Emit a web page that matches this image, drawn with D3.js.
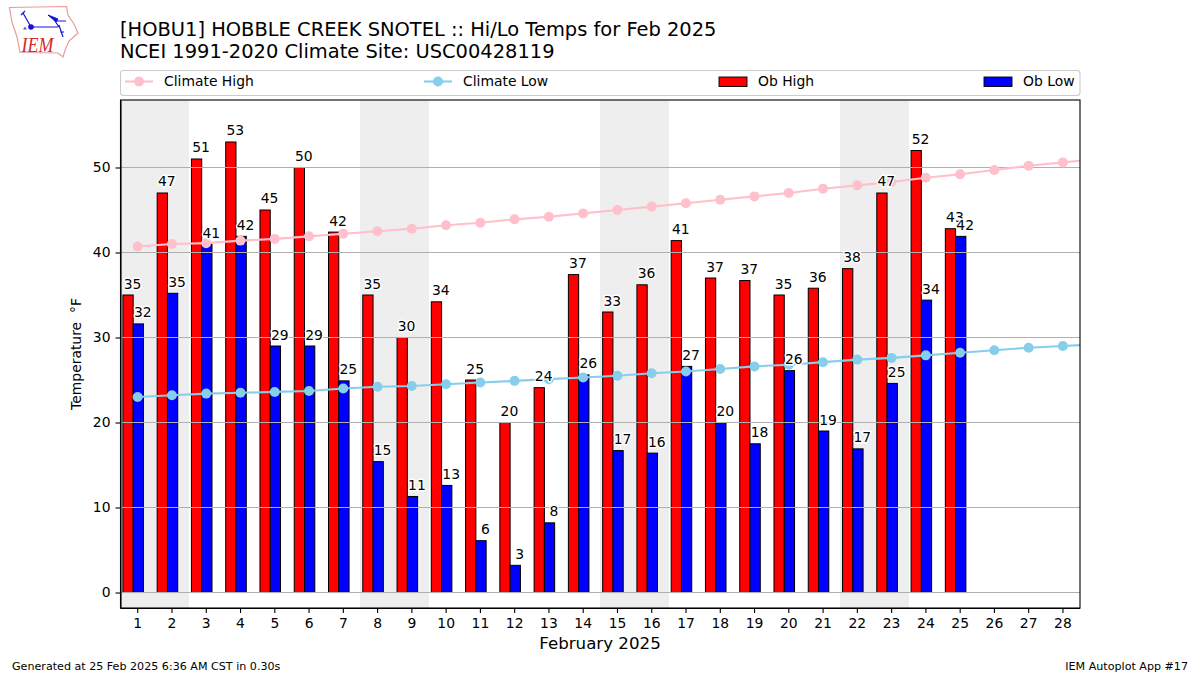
<!DOCTYPE html>
<html>
<head>
<meta charset="utf-8">
<script src="https://cdn.jsdelivr.net/npm/d3@7"></script>
<style>
    body { margin: 0; background: #fff; }
    text { font-family: "DejaVu Sans", sans-serif; fill: #000; }
    .tick text { font-size: 13.9px; }
    .tick line, .domain { stroke: #000; stroke-width: 1.1px; }
</style>
</head>
<body>
<svg id="viz" width="1200" height="675"></svg>
<script>
const titleLines = [
    "[HOBU1] HOBBLE CREEK SNOTEL :: Hi/Lo Temps for Feb 2025",
    "NCEI 1991-2020 Climate Site: USC00428119"
];
const xLabel = "February 2025";
const yLabel = "Temperature \u00a0\u00b0F";
const footerLeft = "Generated at 25 Feb 2025 6:36 AM CST in 0.30s";
const footerRight = "IEM Autoplot App #17";

const days = d3.range(1, 29);
const yTicks = [0, 10, 20, 30, 40, 50];
const weekendDays = [1, 2, 8, 9, 15, 16, 22, 23];

const obHigh = [35, 47, 51, 53, 45, 50, 42.4, 35, 30, 34.2, 25, 20, 24.1, 37.4, 33, 36.2, 41.4, 37, 36.7, 35, 35.8, 38.1, 47, 52, 42.8];
const obLow = [31.6, 35.2, 41, 41.9, 29, 29, 24.9, 15.4, 11.3, 12.6, 6.1, 3.2, 8.2, 25.6, 16.7, 16.4, 26.6, 20, 17.5, 26.1, 19, 16.9, 24.6, 34.4, 41.9];
// the climate series run on to Feb 29, past the right edge of the axes
const climateHigh = [40.7, 41.0, 41.1, 41.4, 41.6, 41.9, 42.2, 42.5, 42.8, 43.2, 43.5, 43.9, 44.2, 44.6, 45.0, 45.4, 45.8, 46.2, 46.6, 47.0, 47.5, 47.9, 48.3, 48.8, 49.2, 49.7, 50.2, 50.6, 51.0];
const climateLow = [23.0, 23.2, 23.4, 23.5, 23.6, 23.7, 24.0, 24.2, 24.3, 24.5, 24.7, 24.9, 25.1, 25.3, 25.5, 25.8, 26.0, 26.3, 26.6, 26.8, 27.1, 27.4, 27.6, 27.9, 28.2, 28.5, 28.8, 29.0, 29.2];

const svg = d3.select("#viz");

const x = d3.scaleLinear().domain([0.5, 28.5]).range([120.5, 1080]);
const y = d3.scaleLinear().domain([-1.82, 57.94]).range([608, 100]);

const barWidth = x(1.3) - x(1);
const highOffset = -0.43;
const lowOffset = -0.13;

svg.append("clipPath").attr("id", "plot-clip")
    .append("rect")
    .attr("x", x.range()[0])
    .attr("y", y.range()[1])
    .attr("width", x.range()[1] - x.range()[0])
    .attr("height", y.range()[0] - y.range()[1]);

const plot = svg.append("g").attr("clip-path", "url(#plot-clip)");

// weekend shading
plot.selectAll("rect.weekend")
    .data(weekendDays)
    .enter()
    .append("rect")
    .attr("class", "weekend")
    .attr("x", (d) => x(d - 0.5))
    .attr("width", (d) => x(d + 0.5) - x(d - 0.5))
    .attr("y", y.range()[1])
    .attr("height", y.range()[0] - y.range()[1])
    .attr("shape-rendering", "crispEdges")
    .style("fill", "#eeeeee");

function drawBars(values, offset, color) {
    plot.append("g").selectAll("rect")
        .data(values)
        .enter()
        .append("rect")
        .attr("x", (d, i) => x(i + 1 + offset))
        .attr("width", barWidth)
        .attr("y", (d) => y(d))
        .attr("height", (d) => y(0) - y(d))
        .style("fill", color)
        .style("stroke", "#000")
        .style("stroke-width", 1);
}
drawBars(obHigh, highOffset, "red");
drawBars(obLow, lowOffset, "blue");

// grid sits above the bars, below the lines
plot.selectAll("line.grid")
    .data(yTicks)
    .enter()
    .append("line")
    .attr("class", "grid")
    .attr("x1", x.range()[0])
    .attr("x2", x.range()[1])
    .attr("y1", (d) => y(d))
    .attr("y2", (d) => y(d))
    .style("stroke", "#b0b0b0")
    .style("stroke-width", 1.1);

const line = d3.line().x((d, i) => x(i + 1)).y((d) => y(d));

function drawClimate(values, color) {
    plot.append("path")
        .attr("d", line(values))
        .style("fill", "none")
        .style("stroke", color)
        .style("stroke-width", 2.1);
    plot.append("g").selectAll("circle")
        .data(values)
        .enter()
        .append("circle")
        .attr("cx", (d, i) => x(i + 1))
        .attr("cy", (d) => y(d))
        .attr("r", 5)
        .style("fill", color);
}
drawClimate(climateHigh, "pink");
drawClimate(climateLow, "skyblue");

// value labels, white halo, one day at a time so later ones sit on top
const labels = [];
obHigh.forEach((v, i) => {
    labels.push({v, day: i + 1 + highOffset + 0.3});
    labels.push({v: obLow[i], day: i + 1 + lowOffset + 0.3});
});
svg.append("g").selectAll("text")
    .data(labels)
    .enter()
    .append("text")
    .attr("x", (d) => x(d.day) - 0.7)
    .attr("y", (d) => y(d.v) - 6.5)
    .attr("text-anchor", "middle")
    .style("font-size", "13.9px")
    .style("paint-order", "stroke")
    .style("stroke", "#fff")
    .style("stroke-width", 2.8)
    .style("stroke-linejoin", "round")
    .text((d) => d3.format(".0f")(d.v));

// axes
svg.append("g")
    .attr("transform", `translate(-0.4,${y.range()[0]})`)
    .call(d3.axisBottom(x).tickValues(days).tickFormat(d3.format("d")).tickSize(5).tickPadding(5).tickSizeOuter(0));
svg.append("g")
    .attr("transform", `translate(${x.range()[0]},0)`)
    .call(d3.axisLeft(y).tickValues(yTicks).tickSize(5).tickPadding(5).tickSizeOuter(0));

svg.append("rect")
    .attr("x", x.range()[0])
    .attr("y", y.range()[1])
    .attr("width", x.range()[1] - x.range()[0])
    .attr("height", y.range()[0] - y.range()[1])
    .style("fill", "none")
    .style("stroke", "#000")
    .style("stroke-width", 1.1);

svg.append("text")
    .attr("x", 600)
    .attr("y", 649)
    .attr("text-anchor", "middle")
    .style("font-size", "16.67px")
    .text(xLabel);

svg.append("text")
    .attr("transform", "translate(81,354) rotate(-90)")
    .attr("text-anchor", "middle")
    .style("font-size", "13.9px")
    .text(yLabel);

// titles and footer
svg.selectAll("text.title")
    .data(titleLines)
    .enter()
    .append("text")
    .attr("class", "title")
    .attr("x", 120)
    .attr("y", (d, i) => 35.6 + i * 22)
    .style("font-size", "19.45px")
    .text((d) => d);

svg.append("text").attr("x", 12).attr("y", 670).style("font-size", "11.12px").text(footerLeft);
svg.append("text").attr("x", 1188).attr("y", 670).attr("text-anchor", "end").style("font-size", "11.12px").text(footerRight);

// legend
svg.append("rect")
    .attr("x", 120.5)
    .attr("y", 70.5)
    .attr("width", 959.5)
    .attr("height", 25)
    .attr("rx", 3)
    .style("fill", "#fff")
    .style("stroke", "#cccccc")
    .style("stroke-width", 1.1);

const legendItems = [
    {label: "Climate High", color: "pink", type: "line", x: 125},
    {label: "Climate Low", color: "skyblue", type: "line", x: 424},
    {label: "Ob High", color: "red", type: "bar", x: 719},
    {label: "Ob Low", color: "blue", type: "bar", x: 984}
];
const legend = svg.append("g").selectAll("g")
    .data(legendItems)
    .enter()
    .append("g")
    .attr("transform", (d) => `translate(${d.x},81.5)`);
legend.filter((d) => d.type === "line").append("line")
    .attr("x2", 28)
    .style("stroke", (d) => d.color)
    .style("stroke-width", 2.1);
legend.filter((d) => d.type === "line").append("circle")
    .attr("cx", 14)
    .attr("r", 5)
    .style("fill", (d) => d.color);
legend.filter((d) => d.type === "bar").append("rect")
    .attr("y", -4.5)
    .attr("width", 28)
    .attr("height", 9.5)
    .style("fill", (d) => d.color)
    .style("stroke", "#000")
    .style("stroke-width", 0.9);
legend.append("text")
    .attr("x", 39)
    .attr("y", 4.5)
    .style("font-size", "13.9px")
    .text((d) => d.label);

// IEM logo
const logo = svg.append("g");
logo.append("path")
    .attr("d", "M9.5 7.5L66.5 6.5L68 15L74 24L78 33L69 41L65.5 49L63 57L58 53L20 52.5L17 37L12 22Z")
    .style("fill", "#fff")
    .style("stroke", "#ec9a9a")
    .style("stroke-width", 1.2);
logo.append("path")
    .attr("d", "M31 27H58M31 27L23 13M21 15L25 11M55 21H66M55 21L59 27M59 25L63 37M60 32H64")
    .style("fill", "none")
    .style("stroke", "#1414d2")
    .style("stroke-width", 1.2);
logo.append("path")
    .attr("d", "M48 15L58 19L56 22Z")
    .style("fill", "#1414d2")
    .style("stroke", "#1414d2");
logo.append("circle").attr("cx", 31).attr("cy", 27).attr("r", 2.8).style("fill", "#1414d2");
logo.append("path")
    .attr("d", "M25 26.5L27 29.5H23Z")
    .style("fill", "#5a5ad8");
logo.append("text")
    .attr("x", 21.5)
    .attr("y", 52)
    .attr("textLength", 32)
    .attr("lengthAdjust", "spacingAndGlyphs")
    .style("font-family", "'Liberation Serif', serif")
    .style("font-style", "italic")
    .style("font-size", "22px")
    .style("fill", "#d62828")
    .text("IEM");
</script>
</body>
</html>
